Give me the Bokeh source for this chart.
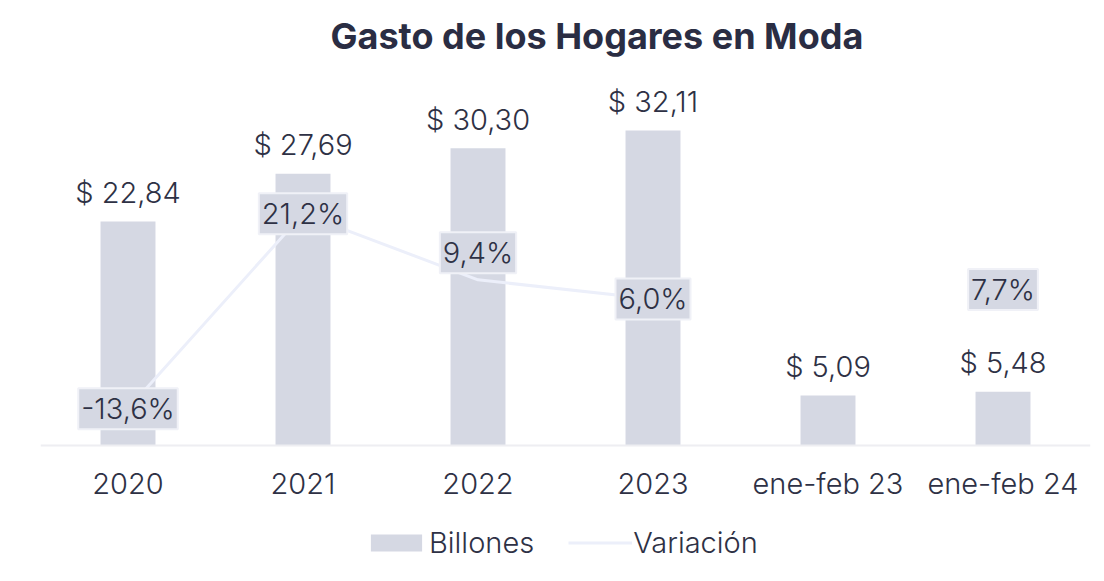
import math
from bokeh.plotting import figure
from bokeh.models import (ColumnDataSource, FactorRange, Range1d, Legend, LegendItem)
from bokeh.core.properties import value
from bokeh.embed import file_html
from bokeh.resources import INLINE

# ---- data ----
categories = ["2020", "2021", "2022", "2023", "ene-feb 23", "ene-feb 24"]
billones = [22.84, 27.69, 30.30, 32.11, 5.09, 5.48]
variacion = [-13.6, 21.2, 9.4, 6.0, None, 7.7]
var_label_place = ["center", "center", "above", "center", "center", "center"]

# ---- styles ----
FONT = "Inter Light, Inter"
TITLE_FONT = "Inter"
TXT = "#2E3145"
BAR = "#D5D8E3"
LINE = "#ECEFFA"
FS = "29px"

def fmt_money(v):
    return "$ " + f"{v:.2f}".replace(".", ",")

def fmt_pct(v):
    return f"{v:.1f}".replace(".", ",") + "%"

bar_src = ColumnDataSource(dict(cat=categories, val=billones,
                                lab=[fmt_money(v) for v in billones]))

var_vals = [float("nan") if v is None else v for v in variacion]
line_src = ColumnDataSource(dict(cat=categories, val=var_vals))

pc, pv, pl, po = [], [], [], []
for c, v, place in zip(categories, variacion, var_label_place):
    if v is None:
        continue
    pc.append(c); pv.append(v); pl.append(fmt_pct(v))
    po.append(-27 if place == "above" else 0)
pct_src = ColumnDataSource(dict(cat=pc, val=pv, lab=pl, off=po))

# frame runs from the title area down to the bottom edge; the category axis is
# pinned at y = 0 so the legend can sit inside the frame below the tick labels
p = figure(x_range=FactorRange(*categories), y_range=Range1d(-13.86, 38.53),
           frame_width=1050, frame_height=514,
           output_backend="svg", toolbar_location=None,
           min_border_left=40, min_border_right=14, min_border_top=67,
           min_border_bottom=0)
p.extra_y_ranges = {"var": Range1d(-44.46, 47.32)}

p.title.text = "Gasto de los Hogares en Moda"
p.title.align = "left"
p.title.text_font = TITLE_FONT
p.title.text_font_size = "36px"
p.title.text_font_style = "bold"
p.title.text_color = "#2A2D43"
p.title.offset = 290
p.title.standoff = 20

p.outline_line_color = None
p.xgrid.visible = False
p.ygrid.visible = False
p.yaxis.visible = False
p.background_fill_color = "white"
p.border_fill_color = "white"

ax = p.xaxis[0]
ax.fixed_location = 0
ax.axis_line_color = "#EEEEF2"
ax.axis_line_width = 2
ax.major_tick_line_color = None
ax.minor_tick_line_color = None
ax.major_tick_out = 0
ax.major_tick_in = 0
ax.major_label_standoff = 20
ax.major_label_text_font = FONT
ax.major_label_text_font_size = FS
ax.major_label_text_color = TXT

bars = p.vbar(x="cat", top="val", bottom=0, width=0.314, source=bar_src,
              fill_color=BAR, line_color=None)

p.text(x="cat", y="val", text="lab", source=bar_src, text_align="center",
       text_baseline="middle", y_offset=-29, text_font=value(FONT),
       text_font_size=FS, text_color=TXT)

line = p.line(x="cat", y="val", source=line_src, y_range_name="var",
              line_color=LINE, line_width=3)

p.text(x="cat", y="val", text="lab", source=pct_src, y_range_name="var",
       y_offset="off", text_align="center", text_baseline="middle",
       text_font=value(FONT), text_font_size=FS, text_color=TXT,
       background_fill_color=BAR, border_line_color="#F0F1F7",
       border_line_width=2, padding=3)

legend = Legend(items=[LegendItem(label="Billones", renderers=[bars]),
                       LegendItem(label="Variación", renderers=[line])],
                orientation="horizontal", location=(324, 21),
                glyph_width=64, glyph_height=21, label_standoff=1,
                spacing=34, padding=0, margin=0,
                label_text_font=FONT, label_text_font_size=FS,
                label_text_color=TXT, background_fill_alpha=0,
                border_line_color=None)
p.add_layout(legend)

open("out.html", "w").write(file_html(p, INLINE))
